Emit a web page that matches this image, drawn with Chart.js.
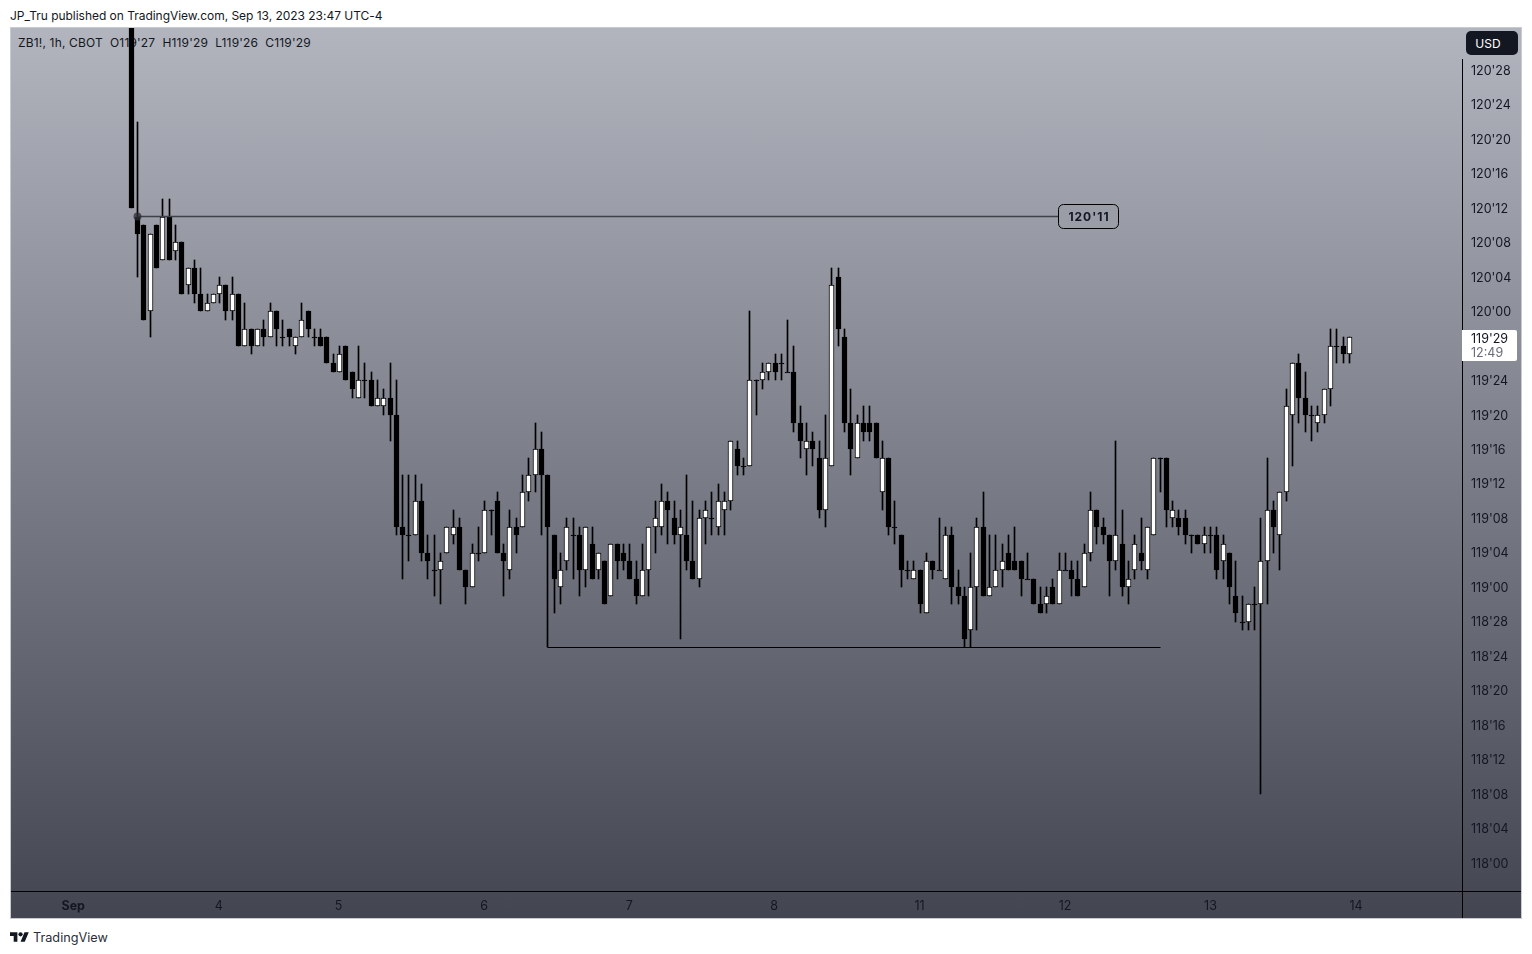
<!DOCTYPE html>
<html>
<head>
<meta charset="utf-8">
<title>ZB1! 1h</title>
<script src="https://cdn.jsdelivr.net/npm/chart.js@4"></script>
<style>
    html, body { margin: 0; padding: 0; background: #fff; width: 1532px; height: 954px; overflow: hidden; font-family: Inter, sans-serif; color: #131722; }
    #header { position: absolute; left: 10px; top: 8px; font-size: 12px; line-height: 16px; white-space: pre; letter-spacing: -0.03px; }
    #panel { position: absolute; left: 10px; top: 27px; width: 1510px; height: 890px; border: 1px solid #c8cad2; background: linear-gradient(#b2b5be, #434651); }
    #legend { position: absolute; left: 7px; top: 7px; font-size: 12px; line-height: 16px; white-space: pre; letter-spacing: 0.17px; }
    #chart { position: absolute; left: 0; top: 0; }
    #usd { position: absolute; left: 1455px; top: 3px; width: 44px; padding-right: 8px; height: 24px; line-height: 25px; border-radius: 5px; background: #131722; color: #fff; font-size: 12px; text-align: center; }
    #footer { position: absolute; left: 10px; top: 929px; height: 16px; display: flex; align-items: center; font-size: 12.7px; color: #2a2e39; }
    #footer svg { width: 19px; height: 15px; margin-right: 4px; fill: #131722; }
</style>
</head>
<body>
<div id="header">JP_Tru published on TradingView.com, Sep 13, 2023 23:47 UTC-4</div>
<div id="panel">
    <div id="legend">ZB1!, 1h, CBOT  O119'27  H119'29  L119'26  C119'29</div>
    <canvas id="chart" width="1510" height="890"></canvas>
    <div id="usd">USD</div>
</div>
<div id="footer">
    <svg viewBox="0 0 36 28"><path d="M14 22H7V11H0V4h14v18zM28 22h-8l7.5-18h8L28 22z"/><circle cx="20" cy="8" r="4"/></svg>
    <span>TradingView</span>
</div>
<script>
'use strict';

// prices are in 32nds above 118'00
const opens = [105,75,74,64,74,70,75,71,72,67,69,66,64,65,66,67,64,66,60,62,60,62,61,64,61,62,60,61,64,61,61,61,58,57,60,57,54,56,56,53,53,54,52,39,38,38,42,36,34,34,36,38,39,34,32,36,36,41,42,36,34,39,39,43,45,48,45,38,32,35,38,38,34,37,34,35,31,37,36,35,33,31,34,39,39,42,40,38,38,35,33,40,40,39,41,42,48,46,46,56,56,57,58,58,57,57,51,48,49,47,41,46,68,61,51,47,51,51,51,43,47,39,38,34,33,34,29,35,34,33,38,32,31,27,32,39,31,32,34,36,35,35,33,33,30,30,32,30,34,34,33,32,36,41,39,38,35,37,32,34,36,34,38,47,47,40,40,40,38,38,37,38,38,35,36,31,28,28,30,30,35,41,38,43,52,58,54,52,51,52,55,60,60,59];
const highs = [107,86,74,73,74,77,77,74,72,69,70,69,66,66,68,67,68,66,65,62,62,63,65,64,63,62,61,65,64,62,62,61,59,60,60,57,60,58,57,56,55,58,56,45,45,45,44,38,38,36,39,41,40,34,37,39,42,41,43,37,41,40,45,47,51,50,45,38,36,40,40,39,39,39,36,35,37,37,37,37,35,37,39,42,44,43,42,41,45,42,41,42,43,44,43,49,49,47,64,56,58,58,59,59,63,60,53,51,50,49,52,69,69,62,55,52,53,53,51,49,47,42,38,35,35,34,36,35,40,39,39,34,32,36,40,43,38,38,37,38,39,35,36,33,32,32,33,36,36,35,35,37,43,41,40,38,49,41,35,38,40,39,47,47,47,42,41,41,38,38,39,39,39,38,36,35,31,30,32,40,47,42,43,55,58,59,57,53,53,55,62,62,61,61];
const lows = [76,68,63,61,69,70,70,70,66,66,65,64,64,65,65,63,63,60,60,59,60,60,61,60,60,60,59,61,61,60,60,58,57,57,56,54,54,54,53,53,52,49,38,33,35,38,35,33,31,30,36,37,34,30,32,35,36,38,36,31,33,36,39,42,43,38,25,29,30,34,33,31,32,33,33,30,31,33,34,33,30,31,31,36,38,37,37,26,34,33,32,37,38,38,38,41,45,45,46,52,55,56,56,56,57,50,47,45,46,40,39,46,60,50,45,47,49,49,47,41,38,37,32,33,33,29,29,33,34,33,30,30,25,25,27,31,31,32,32,34,34,31,33,30,29,29,30,30,34,31,31,32,35,37,37,31,34,31,30,33,34,33,38,43,39,39,38,37,36,37,36,36,33,33,30,28,27,27,27,8,30,36,34,42,46,51,50,49,50,51,53,58,58,58];
const closes = [76,73,63,73,69,75,70,72,66,69,66,64,65,66,67,64,66,60,62,60,62,61,64,62,61,61,61,63,62,61,60,58,57,59,56,55,56,56,53,54,54,52,39,38,38,42,36,35,34,35,39,39,34,32,36,36,41,41,36,35,39,38,43,45,48,45,39,33,34,39,38,34,39,33,36,30,37,35,35,33,31,34,39,40,42,41,38,39,35,33,40,41,40,42,42,49,46,46,56,56,57,58,57,58,57,51,49,49,48,41,47,67,62,51,48,51,50,50,47,47,39,39,34,34,34,30,35,34,34,38,32,31,26,32,39,31,32,34,35,34,34,33,33,30,29,31,30,34,34,33,31,36,41,39,38,35,38,32,33,37,35,39,47,47,41,41,39,38,38,37,38,38,34,37,32,29,28,30,30,35,41,39,43,53,58,54,52,52,52,55,60,60,59,61];

const priceTickValues = [92,88,84,80,76,72,68,64,60,56,52,48,44,40,36,32,28,24,20,16,12,8,4,0];
const priceTickLabels = ["120'28","120'24","120'20","120'16","120'12","120'08","120'04","120'00","119'28","119'24","119'20","119'16","119'12","119'08","119'04","119'00","118'28","118'24","118'20","118'16","118'12","118'08","118'04","118'00"];
const dateTickValues = [-9.2,13.85,32.85,55.9,78.9,101.85,124.9,147.95,171,194.05];
const dateTickLabels = ['Sep','4','5','6','7','8','11','12','13','14'];

// drawn lines: [bar index, price]
const resistanceLine = [[1,75],[147,75]];
const supportLine = [[66,25],[163,25]];
const resistanceLabel = "120'11";
const lastPriceLabel = "119'29";
const countdownLabel = '12:49';

const xValues = opens.map((v, i) => i);

const wickData = xValues.map(i => ({ x: i, y: [lows[i], highs[i]] }));
const bodyData = xValues.map(i => ({ x: i, y: [opens[i], closes[i]] }));
const bodyColors = xValues.map(i => closes[i] > opens[i] ? '#ffffff' : '#000000');

// snap the bars and lines to whole pixels so the candles stay crisp
const snapToPixels = {
    id: 'snapToPixels',
    afterDatasetsUpdate: function (chart) {
        chart.getSortedVisibleDatasetMetas().forEach(function (meta) {
            meta.data.forEach(function (el) {
                el.x = Math.round(el.x - 0.5) + 0.5;
                if (meta.type === 'bar') {
                    const top = Math.round(el.y);
                    const bottom = Math.round(el.base);
                    el.y = top;
                    el.base = bottom === top ? top + 1 : bottom;
                } else {
                    el.y = Math.round(el.y - 0.5) + 0.5;
                }
            });
        });
    }
};

// axis lines and the two price labels
const overlays = {
    id: 'overlays',
    afterDraw: function (chart) {
        const ctx = chart.ctx;
        const area = chart.chartArea;
        const yScale = chart.scales.y;
        const xScale = chart.scales.x;

        ctx.save();
        ctx.fillStyle = '#000000';
        ctx.fillRect(0, area.bottom, chart.width, 1);
        ctx.fillRect(area.right, 31, 1, chart.height - 31);

        // 120'11 label at the end of the line
        const labelX = Math.round(xScale.getPixelForValue(resistanceLine[1][0]));
        const labelY = Math.round(yScale.getPixelForValue(resistanceLine[1][1]));
        ctx.beginPath();
        ctx.roundRect(labelX - 0.5, labelY - 12.5, 60, 24, 5);
        ctx.fillStyle = '#9a9ca6';
        ctx.fill();
        ctx.lineWidth = 1;
        ctx.strokeStyle = '#000000';
        ctx.stroke();
        ctx.fillStyle = '#131722';
        ctx.font = 'bold 12px Inter, sans-serif';
        ctx.letterSpacing = '1px';
        ctx.textAlign = 'center';
        ctx.textBaseline = 'middle';
        ctx.fillText(resistanceLabel, labelX + 30, labelY + 0.5);
        ctx.letterSpacing = '0px';

        // last price box on the axis
        const lastY = Math.round(yScale.getPixelForValue(closes[closes.length - 1]));
        ctx.beginPath();
        ctx.roundRect(area.right, lastY - 7, 55, 31, [0, 2, 2, 0]);
        ctx.fillStyle = '#ffffff';
        ctx.fill();
        ctx.font = '12.5px Inter, sans-serif';
        ctx.textAlign = 'left';
        ctx.fillStyle = '#131722';
        ctx.fillText(lastPriceLabel, area.right + 9, lastY + 2);
        ctx.fillStyle = '#6a6d78';
        ctx.fillText(countdownLabel, area.right + 9, lastY + 16);
        ctx.restore();
    }
};

new Chart(document.getElementById('chart'), {
    type: 'bar',
    data: {
        datasets: [
            {
                type: 'line',
                data: resistanceLine.map(p => ({ x: p[0], y: p[1] })),
                borderColor: '#3f4149',
                borderWidth: 1.5,
                pointRadius: [4, 0],
                pointBackgroundColor: 'rgba(45, 46, 54, 0.75)',
                pointBorderWidth: 0,
                order: 1
            },
            {
                type: 'line',
                data: supportLine.map(p => ({ x: p[0], y: p[1] })),
                borderColor: '#000000',
                borderWidth: 1,
                pointRadius: 0,
                order: 1
            },
            {
                data: bodyData,
                backgroundColor: bodyColors,
                borderColor: '#000000',
                borderWidth: 1,
                borderSkipped: false,
                barThickness: 5,
                grouped: false,
                minBarLength: 1,
                order: 2
            },
            {
                data: wickData,
                backgroundColor: '#000000',
                borderWidth: 0,
                barThickness: 1,
                grouped: false,
                order: 3
            }
        ]
    },
    options: {
        responsive: false,
        animation: false,
        devicePixelRatio: 1,
        layout: { padding: 0, autoPadding: false },
        events: [],
        scales: {
            x: {
                type: 'linear',
                offset: false,
                min: -19.06,
                max: 210.85,
                grid: { display: false, drawTicks: false },
                border: { display: false },
                afterBuildTicks: function (scale) {
                    scale.ticks = dateTickValues.map(v => ({ value: v }));
                },
                afterFit: function (scale) {
                    scale.height = 27;
                    scale.paddingLeft = 0;
                    scale.paddingRight = 0;
                },
                ticks: {
                    autoSkip: false,
                    maxRotation: 0,
                    padding: 8,
                    color: '#131722',
                    font: function (ctx) {
                        return { family: 'Inter, sans-serif', size: 12.5, weight: ctx.index === 0 ? 'bold' : 'normal' };
                    },
                    callback: function (value, index) {
                        return dateTickLabels[index];
                    }
                }
            },
            y: {
                position: 'right',
                min: -3.25,
                max: 96.87,
                grid: { display: false, drawTicks: false },
                border: { display: false },
                afterBuildTicks: function (scale) {
                    scale.ticks = priceTickValues.map(v => ({ value: v }));
                },
                afterFit: function (scale) {
                    scale.width = 59;
                    scale.paddingTop = 0;
                    scale.paddingBottom = 0;
                },
                ticks: {
                    autoSkip: false,
                    padding: 9,
                    labelOffset: 1,
                    color: '#131722',
                    font: { family: 'Inter, sans-serif', size: 12.5 },
                    callback: function (value, index) {
                        return priceTickLabels[index];
                    }
                }
            }
        },
        plugins: {
            legend: { display: false },
            title: { display: false },
            tooltip: { enabled: false }
        }
    },
    plugins: [snapToPixels, overlays]
});
</script>
</body>
</html>
